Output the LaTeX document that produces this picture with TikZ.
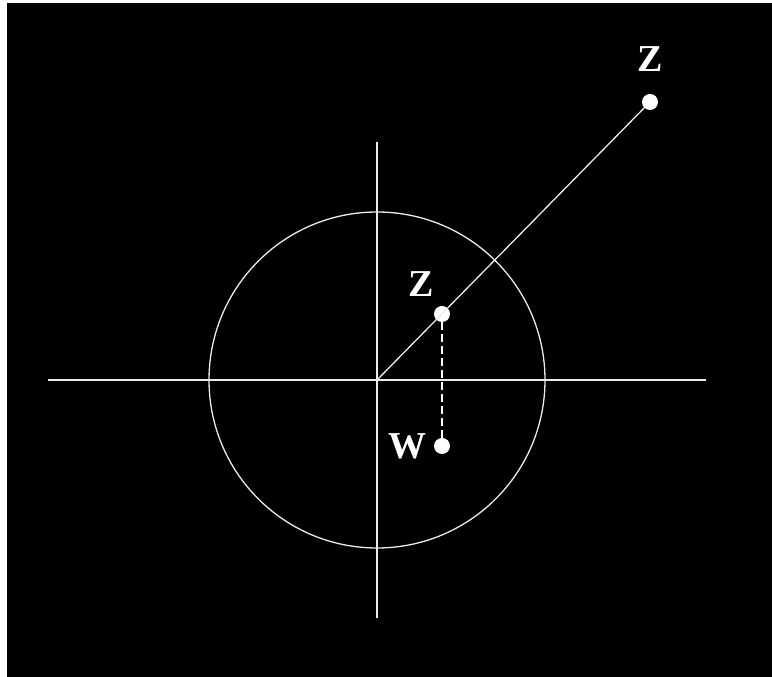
\documentclass[tikz,border=0pt]{standalone}
\usepackage{fontspec}
\setmainfont{Liberation Serif}
\usetikzlibrary{positioning}
\tikzset{
  dot/.style={circle, fill=white, draw=none, inner sep=0pt, minimum size=16pt},
  lbl/.style={text=white, font=\fontsize{38}{38}\selectfont\bfseries, inner sep=0pt},
  axis/.style={draw=white!92!black, line width=1.6pt},
  ray/.style={draw=white!92!black, line width=1.3pt},
  proj/.style={draw=white, line width=1.6pt, dash pattern=on 8pt off 4pt}
}
\begin{document}
\begin{tikzpicture}[x=1pt, y=1pt]
  \useasboundingbox (0,0) rectangle (772,677);
  \fill[white] (0,0) rectangle (772,677);
  \fill[black] (7,0) rectangle (772,674);
  \coordinate (o) at (377,297);
  \coordinate (xl) at (48,297);
  \coordinate (xr) at (706,297);
  \coordinate (yb) at (377,59);
  \coordinate (yt) at (377,535);
  % unit circle and axes
  \draw[ray] (o) circle (168);
  \draw[axis] (xl) -- (xr);
  \draw[axis] (yb) -- (yt);
  % points
  \node[dot] (zout) at (650,575) {};
  \node[dot] (zin) at (442,363) {};
  \node[dot] (w) at (442,231) {};
  \node[lbl, above=22pt of zout] (zoutlbl) {Z};
  \node[lbl, above left=11pt and 2pt of zin] (zinlbl) {Z};
  \node[lbl, left=7pt of w] (wlbl) {W};
  \draw[ray] (o) -- (zout);
  \draw[proj] (zin) -- (w);
\end{tikzpicture}
\end{document}
